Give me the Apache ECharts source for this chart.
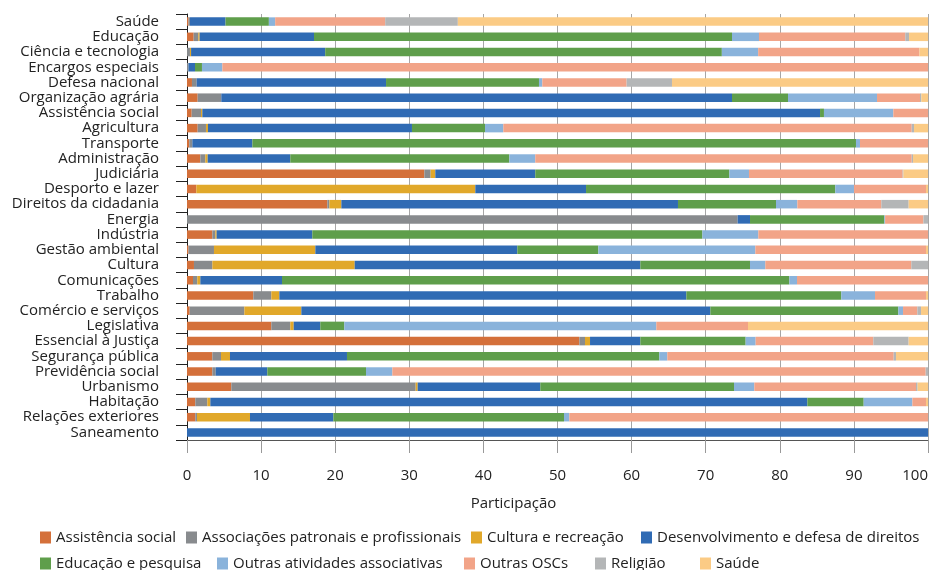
<!DOCTYPE html>
<html>
<head>
<meta charset="utf-8">
<script src="https://cdn.jsdelivr.net/npm/echarts@6/dist/echarts.min.js"></script>
<style>
html,body{margin:0;padding:0;background:#fff;overflow:hidden;}
#chart{width:931px;height:570px;}
</style>
</head>
<body>
<div id="chart"></div>
<script>
const categories = ["Saúde","Educação","Ciência e tecnologia","Encargos especiais","Defesa nacional","Organização agrária","Assistência social","Agricultura","Transporte","Administração","Judiciária","Desporto e lazer","Direitos da cidadania","Energia","Indústria","Gestão ambiental","Cultura","Comunicações","Trabalho","Comércio e serviços","Legislativa","Essencial à Justiça","Segurança pública","Previdência social","Urbanismo","Habitação","Relações exteriores","Saneamento"];

const seriesNames = ["Assistência social","Associações patronais e profissionais","Cultura e recreação","Desenvolvimento e defesa de direitos","Educação e pesquisa","Outras atividades associativas","Outras OSCs","Religião","Saúde"];

const xTicks = [0,10,20,30,40,50,60,70,80,90,100];

const assistenciaSocial = [0.2,0.9,0,0,0.67,1.44,0.63,1.44,0.31,1.8,32.03,1.26,18.94,0,3.42,0.2,0.94,0.81,8.95,0.36,11.38,52.95,3.42,3.42,5.98,1.12,1.12,0];
const associacoesPatronais = [0.2,0.63,0.4,0.2,0.63,3.19,1.26,1.12,0.41,0.67,0.85,0,0.27,74.31,0.4,3.44,2.48,0.58,2.43,7.38,2.56,0.76,1.17,0.45,24.88,1.62,0.23,0];
const culturaRecreacao = [0,0.18,0.15,0,0,0,0.18,0.27,0,0.32,0.63,37.65,1.62,0,0.18,13.68,19.21,0.41,1.08,7.69,0.46,0.68,1.21,0,0.27,0.41,7.15,0];
const desenvolvimentoDireitos = [4.8,15.43,18.1,0.88,25.56,68.92,83.36,27.53,8.1,11.15,13.49,14.94,45.43,1.67,12.91,27.26,38.55,11.02,54.93,55.2,3.59,6.79,15.79,6.97,16.55,80.57,11.25,100];
const educacaoPesquisa = [5.85,56.41,53.53,0.94,20.64,7.56,0.53,9.86,81.46,29.56,26.19,33.64,13.23,18.13,52.64,10.93,14.8,68.47,20.91,25.37,3.24,14.21,42.15,13.32,26.14,7.6,31.13,0];
const outrasAtividades = [0.85,3.64,4.9,2.75,0.45,12.01,9.36,2.47,0.54,3.5,2.65,2.52,2.88,0.1,7.55,21.19,2.07,1.03,4.55,0.63,42.11,1.35,1.08,3.55,2.74,6.57,0.72,0];
const outrasOSCs = [14.85,19.75,21.77,95.23,11.38,5.8,4.68,55.11,9.18,50.8,20.74,9.72,11.33,5.17,22.9,23.03,19.7,17.68,6.88,1.93,12.37,15.88,30.55,71.98,21.82,1.84,48.4,0];
const religiao = [9.8,0.5,0,0,6.12,0.18,0,0.31,0,0.18,0.1,0,3.69,0.63,0,0,2.25,0,0,0.5,0,4.77,0.31,0.31,0.22,0,0,0];
const saude = [63.45,2.56,1.15,0,34.55,0.9,0,1.89,0,2.02,3.33,0.27,2.61,0,0,0.27,0,0,0.27,0.94,24.29,2.61,4.32,0,1.4,0.27,0,0];

const seriesData = [assistenciaSocial,associacoesPatronais,culturaRecreacao,desenvolvimentoDireitos,educacaoPesquisa,outrasAtividades,outrasOSCs,religiao,saude];
const colors = ["#D4703A","#888B8E","#E1A82A","#306BB4","#5F9E4B","#8AB3DB","#F2A488","#B4B6B7","#FBCB85"];

const FONT = "Open Sans";
const legendPos = [
  {left:40, top:530},{left:186, top:530},{left:471, top:530},{left:641, top:530},
  {left:40, top:556},{left:217, top:556},{left:464, top:556},{left:595, top:556},{left:700, top:556}
];

const chart = echarts.init(document.getElementById('chart'));
chart.setOption({
  animation:false,
  textStyle:{fontFamily:FONT},
  color:colors,
  grid:{left:187,right:3,top:14,bottom:130,containLabel:false,outerBoundsMode:'none'},
  legend: seriesNames.map((n,i)=>({
    data:[n], left:legendPos[i].left, top:legendPos[i].top, padding:0,
    itemWidth:11, itemHeight:12, icon:'rect', itemGap:0,
    textStyle:{fontFamily:FONT,fontSize:15,color:'#222'}
  })),
  xAxis:{
    type:'value', min:xTicks[0], max:xTicks[xTicks.length-1], interval:10,
    name:'Participação', nameLocation:'middle', nameGap:56,
    nameTextStyle:{fontFamily:FONT,fontSize:15,color:'#222',padding:[0,88,0,0]},
    axisLine:{show:true,lineStyle:{color:'#555',width:1}},
    axisTick:{show:true,length:13,lineStyle:{color:'#999'}},
    axisLabel:{fontFamily:FONT,fontSize:15,color:'#222',margin:28,alignMaxLabel:'right'},
    splitLine:{show:true,lineStyle:{color:'#a6a6a6',width:1}}
  },
  yAxis:{
    type:'category', data:categories, inverse:true,
    axisLine:{show:true,lineStyle:{color:'#222',width:1}},
    axisTick:{show:true,length:11,lineStyle:{color:'#222'}},
    axisLabel:{fontFamily:FONT,fontSize:15,color:'#222',margin:28,interval:0},
    splitLine:{show:false}
  },
  series: seriesNames.map((n,i)=>({
    name:n, type:'bar', stack:'total', data:seriesData[i],
    barCategoryGap:'44%', itemStyle:{color:colors[i]}
  }))
});
</script>
</body>
</html>
